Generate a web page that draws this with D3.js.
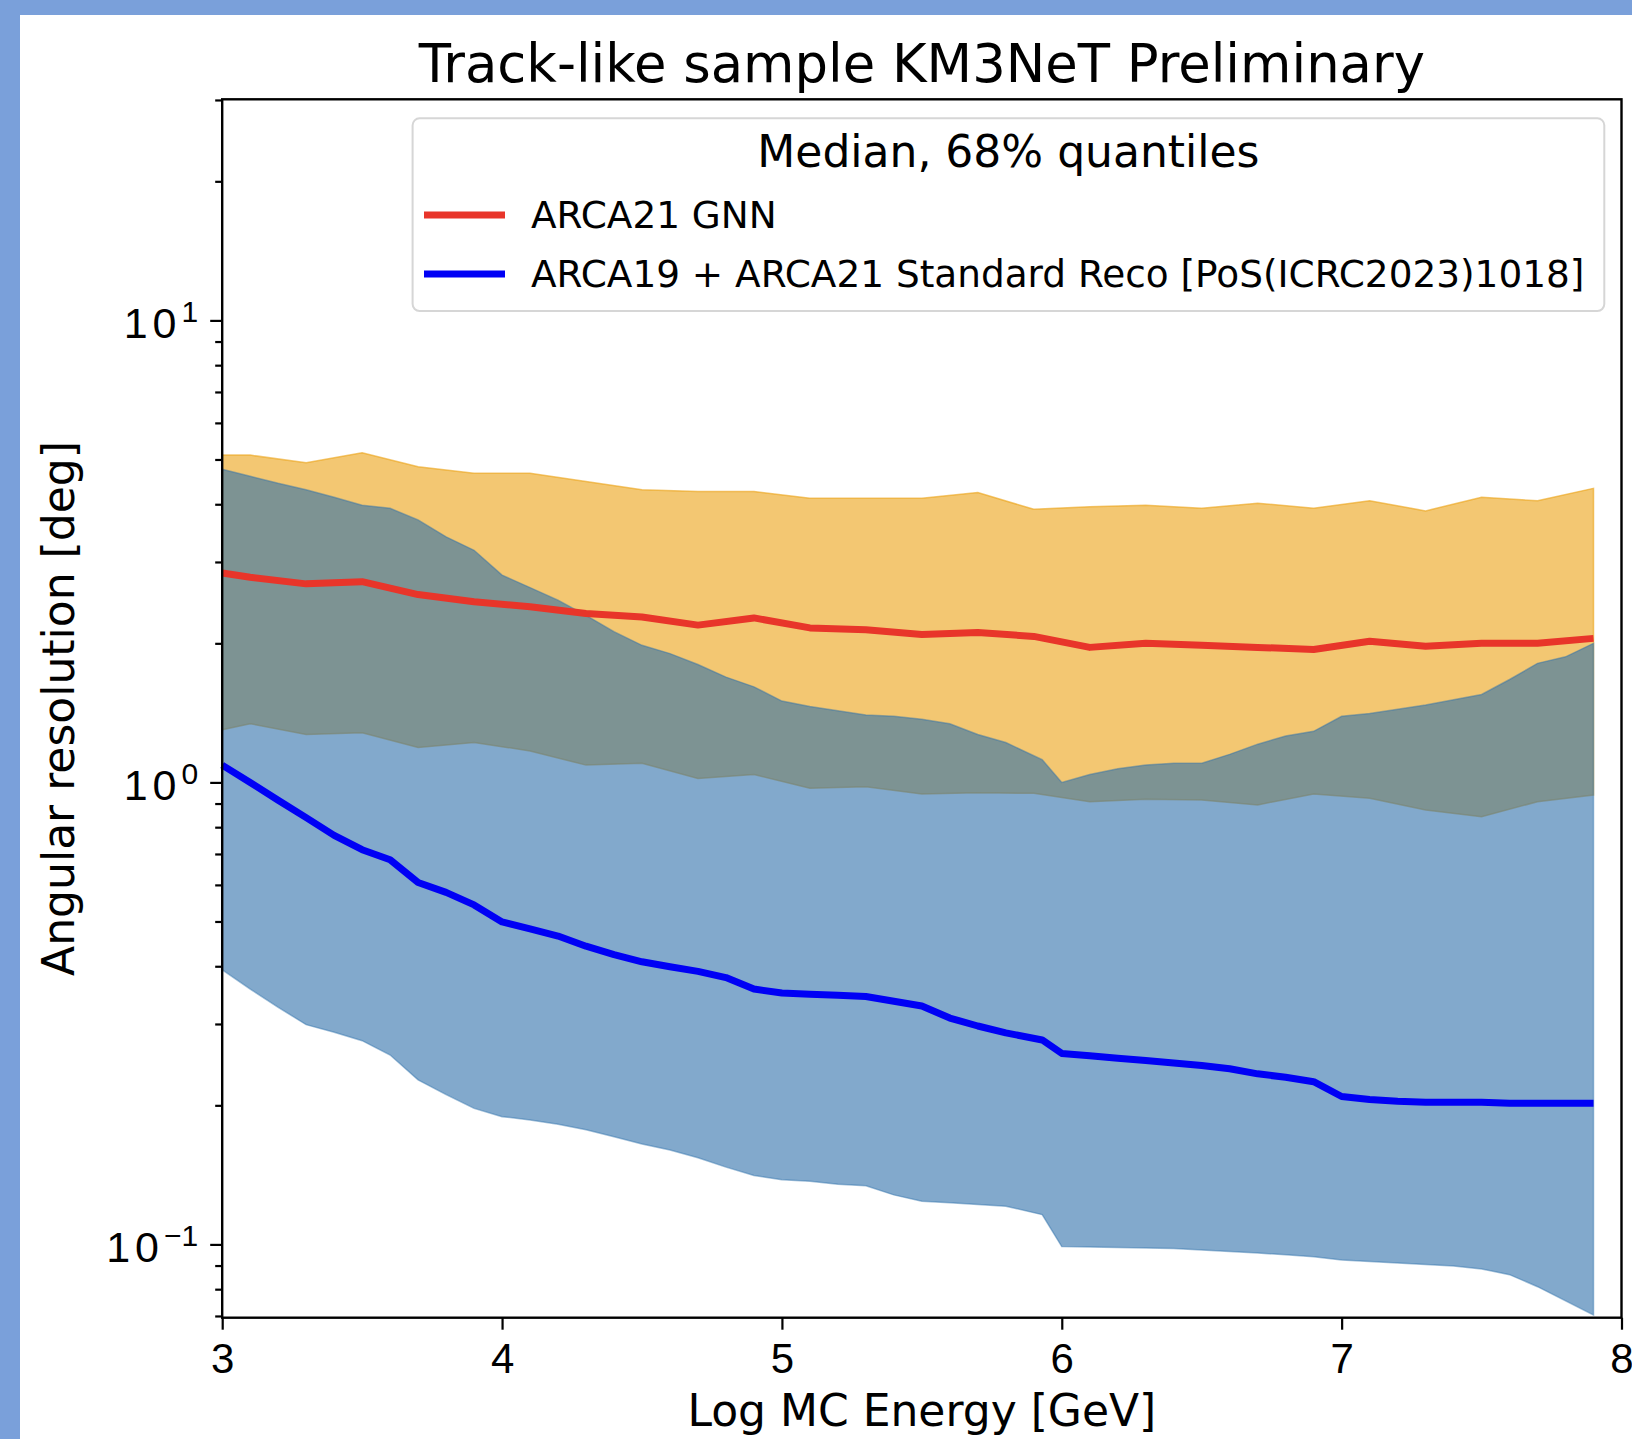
<!DOCTYPE html>
<html>
<head>
<meta charset="utf-8">
<script src="https://cdn.jsdelivr.net/npm/d3@7"></script>
<style>
  html, body { margin: 0; padding: 0; background: #7aa0da; }
  svg { display: block; font-family: 'DejaVu Sans', sans-serif; }
</style>
</head>
<body>
<div id="chart"></div>
<script>
// ARCA21 GNN: median and 68% band (bin centres)
const gnnEnergy = [3.0, 3.1, 3.3, 3.5, 3.7, 3.9, 4.1, 4.3, 4.5, 4.7, 4.9, 5.1, 5.3,
  5.5, 5.7, 5.9, 6.1, 6.3, 6.5, 6.7, 6.9, 7.1, 7.3, 7.5, 7.7, 7.9];
const gnnMedian = [2.84, 2.78, 2.69, 2.72, 2.55, 2.46, 2.40, 2.32, 2.28, 2.19, 2.27, 2.16, 2.14,
  2.09, 2.11, 2.07, 1.96, 2.00, 1.98, 1.96, 1.94, 2.02, 1.97, 2.00, 2.00, 2.05];
const gnnLow = [1.30, 1.34, 1.27, 1.28, 1.19, 1.22, 1.17, 1.09, 1.10, 1.02, 1.04, 0.971, 0.979,
  0.944, 0.950, 0.947, 0.908, 0.919, 0.916, 0.894, 0.944, 0.924, 0.872, 0.843, 0.908, 0.939];
const gnnHigh = [5.11, 5.11, 4.92, 5.17, 4.82, 4.67, 4.67, 4.48, 4.30, 4.26, 4.26, 4.12, 4.12,
  4.12, 4.24, 3.90, 3.95, 3.98, 3.92, 4.02, 3.92, 4.07, 3.87, 4.14, 4.07, 4.33];

// ARCA19 + ARCA21 standard reconstruction
const stdEnergy = [3.0, 3.1, 3.2, 3.3, 3.4, 3.5, 3.6, 3.7, 3.8, 3.9, 4.0, 4.1, 4.2, 4.3, 4.4,
  4.5, 4.6, 4.7, 4.8, 4.9, 5.0, 5.1, 5.2, 5.3, 5.4, 5.5, 5.6, 5.7, 5.8, 5.93, 6.0, 6.1, 6.2,
  6.3, 6.4, 6.5, 6.6, 6.7, 6.8, 6.9, 7.0, 7.1, 7.2, 7.3, 7.4, 7.5, 7.6, 7.7, 7.8, 7.9];
const stdMedian = [1.09, 1.00, 0.915, 0.839, 0.768, 0.715, 0.680, 0.607, 0.578, 0.543, 0.499,
  0.482, 0.465, 0.442, 0.424, 0.409, 0.399, 0.390, 0.378, 0.357, 0.350, 0.348, 0.346, 0.344,
  0.336, 0.328, 0.309, 0.297, 0.287, 0.277, 0.259, 0.256, 0.253, 0.250, 0.247, 0.244, 0.240,
  0.234, 0.230, 0.225, 0.209, 0.206, 0.204, 0.203, 0.203, 0.203, 0.202, 0.202, 0.202, 0.202];
const stdLow = [0.393, 0.357, 0.326, 0.299, 0.288, 0.276, 0.257, 0.227, 0.211, 0.197, 0.189,
  0.186, 0.182, 0.177, 0.171, 0.165, 0.160, 0.154, 0.147, 0.141, 0.138, 0.137, 0.135, 0.134,
  0.128, 0.124, 0.123, 0.122, 0.121, 0.116, 0.0989, 0.0987, 0.0985, 0.0982, 0.098, 0.0972,
  0.0965, 0.0958, 0.095, 0.094, 0.0925, 0.0918, 0.0911, 0.0905, 0.0898, 0.0885, 0.086, 0.081,
  0.0755, 0.0703];
const stdHigh = [4.76, 4.60, 4.44, 4.30, 4.14, 3.98, 3.92, 3.70, 3.40, 3.18, 2.81, 2.64, 2.48,
  2.30, 2.12, 1.98, 1.90, 1.80, 1.69, 1.61, 1.50, 1.46, 1.43, 1.40, 1.39, 1.37, 1.34, 1.27,
  1.22, 1.12, 1.00, 1.04, 1.07, 1.09, 1.10, 1.10, 1.15, 1.21, 1.26, 1.29, 1.39, 1.41, 1.44,
  1.47, 1.51, 1.55, 1.67, 1.81, 1.87, 2.00];

const xTicks = [3, 4, 5, 6, 7, 8];
const yMajorTicks = [0.1, 1, 10];
const yMajorExp = ['\u22121', '0', '1'];
const titleText = 'Track-like sample KM3NeT Preliminary';
const xLabel = 'Log MC Energy [GeV]';
const yLabel = 'Angular resolution [deg]';
const legendTitle = 'Median, 68% quantiles';
const seriesNames = ['ARCA21 GNN', 'ARCA19 + ARCA21 Standard Reco [PoS(ICRC2023)1018]'];

const width = 1632;
const height = 1439;
const plot = { left: 222.2, right: 1621.5, top: 99.3, bottom: 1317.7 };

const x = d3.scaleLinear().domain([3, 8]).range([plot.left, plot.right]);
const y = d3.scaleLog().domain([0.0694, 30.1]).range([plot.bottom, plot.top]);

const svg = d3.select('#chart').append('svg')
  .attr('width', width)
  .attr('height', height);

// white figure panel on the slide background
svg.append('rect')
  .attr('x', 20).attr('y', 15)
  .attr('width', width - 20).attr('height', height - 15)
  .attr('fill', '#ffffff');

function bandPath(xs, lo, hi) {
  return d3.area()
    .x((d, i) => x(xs[i]))
    .y0((d, i) => y(lo[i]))
    .y1((d, i) => y(hi[i]))(xs);
}

function linePath(xs, ys) {
  return d3.line()
    .x((d, i) => x(xs[i]))
    .y((d, i) => y(ys[i]))(xs);
}

const bands = svg.append('g').attr('class', 'bands');

bands.append('path')
  .attr('d', bandPath(gnnEnergy, gnnLow, gnnHigh))
  .attr('fill', '#eba214').attr('fill-opacity', 0.6)
  .attr('stroke', '#eba214').attr('stroke-opacity', 0.6).attr('stroke-width', 1.5);

bands.append('path')
  .attr('d', bandPath(stdEnergy, stdLow, stdHigh))
  .attr('fill', '#2f70aa').attr('fill-opacity', 0.6)
  .attr('stroke', '#2f70aa').attr('stroke-opacity', 0.45).attr('stroke-width', 1.5);

const lines = svg.append('g').attr('class', 'lines').attr('fill', 'none');

lines.append('path')
  .attr('d', linePath(stdEnergy, stdMedian))
  .attr('stroke', '#0000f5').attr('stroke-width', 7).attr('stroke-linejoin', 'round');

lines.append('path')
  .attr('d', linePath(gnnEnergy, gnnMedian))
  .attr('stroke', '#e8352a').attr('stroke-width', 7).attr('stroke-linejoin', 'round');

// axes
const xAxis = svg.append('g')
  .attr('transform', `translate(0, ${plot.bottom})`)
  .call(d3.axisBottom(x).tickValues(xTicks).tickSize(12).tickPadding(13)
    .tickFormat(d3.format('d')));

xAxis.selectAll('text').attr('font-size', 42).attr('fill', '#000');

const [yLo, yHi] = y.domain();
const minorTicks = [];
for (let e = -2; e <= 1; e++) {
  for (let k = 2; k <= 9; k++) {
    const v = k * Math.pow(10, e);
    if (v >= yLo && v <= yHi) minorTicks.push(v);
  }
}

svg.append('g')
  .attr('transform', `translate(${plot.left}, 0)`)
  .call(d3.axisLeft(y).tickValues(minorTicks).tickSize(7).tickFormat(''));

const yAxis = svg.append('g')
  .attr('transform', `translate(${plot.left}, 0)`)
  .call(d3.axisLeft(y).tickValues(yMajorTicks).tickSize(12).tickFormat(''));

yAxis.selectAll('.tick').each(function (d, i) {
  const t = d3.select(this).append('text')
    .attr('x', -24).attr('y', 17)
    .attr('text-anchor', 'end')
    .attr('fill', '#000');
  t.append('tspan').attr('font-size', 43).attr('letter-spacing', 5).text('10');
  t.append('tspan').attr('font-size', 30).attr('dy', -16).text(yMajorExp[i]);
});

svg.selectAll('.domain').remove();
svg.selectAll('.tick line').attr('stroke', '#000').attr('stroke-width', 2.2);

svg.append('rect')
  .attr('x', plot.left).attr('y', plot.top)
  .attr('width', plot.right - plot.left).attr('height', plot.bottom - plot.top)
  .attr('fill', 'none').attr('stroke', '#000').attr('stroke-width', 2.4);

// titles
svg.append('text')
  .attr('x', (plot.left + plot.right) / 2).attr('y', 81.5)
  .attr('text-anchor', 'middle').attr('font-size', 52.8)
  .text(titleText);

svg.append('text')
  .attr('x', (plot.left + plot.right) / 2).attr('y', 1426)
  .attr('text-anchor', 'middle').attr('font-size', 44)
  .text(xLabel);

svg.append('text')
  .attr('transform', `translate(74, ${(plot.top + plot.bottom) / 2}) rotate(-90)`)
  .attr('text-anchor', 'middle').attr('font-size', 44)
  .text(yLabel);

// legend
const legend = svg.append('g').attr('class', 'legend');

legend.append('rect')
  .attr('x', 412.6).attr('y', 118.3)
  .attr('width', 1604.3 - 412.6).attr('height', 311 - 118.3)
  .attr('rx', 7)
  .attr('fill', '#ffffff').attr('fill-opacity', 0.8)
  .attr('stroke', '#d6d6d6').attr('stroke-width', 2);

legend.append('text')
  .attr('x', (412.6 + 1604.3) / 2).attr('y', 167)
  .attr('text-anchor', 'middle').attr('font-size', 44)
  .text(legendTitle);

const legendColors = ['#e8352a', '#0000f5'];
seriesNames.forEach((name, i) => {
  const cy = 215 + i * 59;
  legend.append('line')
    .attr('x1', 424).attr('x2', 505)
    .attr('y1', cy).attr('y2', cy)
    .attr('stroke', legendColors[i]).attr('stroke-width', 7);
  legend.append('text')
    .attr('x', 531).attr('y', cy + 12.5)
    .attr('font-size', 37.4)
    .text(name);
});
</script>
</body>
</html>
